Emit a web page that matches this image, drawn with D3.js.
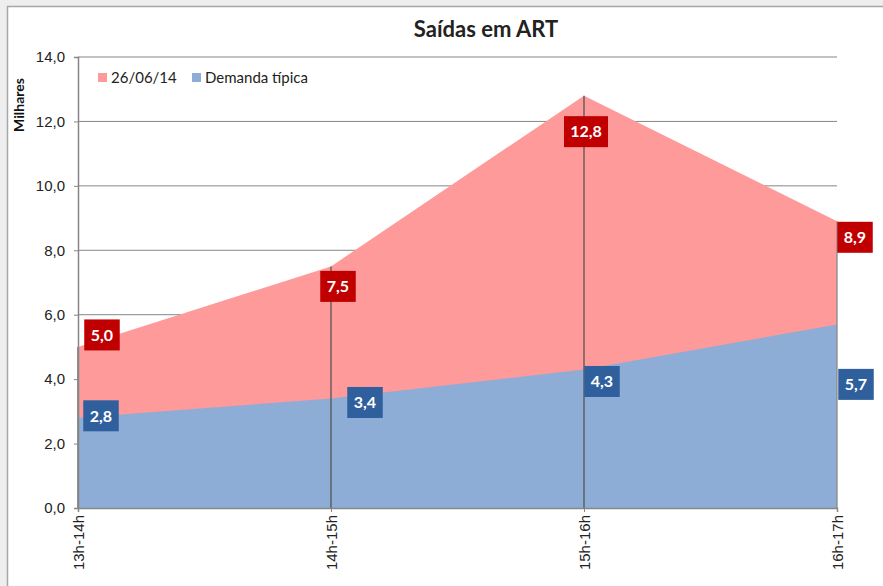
<!DOCTYPE html>
<html>
<head>
<meta charset="utf-8">
<script src="https://cdn.jsdelivr.net/npm/d3@7"></script>
<style>
  body { margin: 0; background: #eeeeee; }
  svg { display: block; font-family: Lato, "Open Sans", sans-serif; }
</style>
</head>
<body>
<div id="chart"></div>
<script>
// Data
const periods = ['13h-14h', '14h-15h', '15h-16h', '16h-17h'];
const dia260614 = [5.0, 7.5, 12.8, 8.9];
const demandaTipica = [2.8, 3.4, 4.3, 5.7];
const yTicks = [0, 2, 4, 6, 8, 10, 12, 14];
const seriesNames = ['26/06/14', 'Demanda típica'];

// Dimensions
const svgWidth = 883, svgHeight = 586;
const margin = { top: 57, right: 46, bottom: 78, left: 78 };
const chartWidth = svgWidth - margin.left - margin.right;
const chartHeight = svgHeight - margin.top - margin.bottom;

const fmt = v => d3.format('.1f')(v).replace('.', ',');

let svg = d3.select('#chart')
    .append('svg')
    .attr('width', svgWidth)
    .attr('height', svgHeight);

// Chart area frame
svg.append('rect')
    .attr('x', 7.5).attr('y', 6.5)
    .attr('width', svgWidth).attr('height', svgHeight)
    .style('fill', 'white')
    .style('stroke', '#a6a6a6')
    .style('stroke-width', 1.5);

let chart = svg.append('g')
    .attr('transform', `translate(${margin.left}, ${margin.top})`);

// Scales
let xScale = d3.scalePoint()
    .domain(periods)
    .range([0, chartWidth]);

let yScale = d3.scaleLinear()
    .domain([0, 14])
    .range([chartHeight, 0]);

// Gridlines
chart.selectAll('.grid')
    .data(yTicks.filter(d => d > 0))
    .enter()
    .append('line')
    .attr('x1', 0)
    .attr('x2', chartWidth)
    .attr('y1', d => yScale(d))
    .attr('y2', d => yScale(d))
    .style('stroke', '#868686')
    .style('stroke-width', 1);

// Areas
const area = values => d3.area()
    .x((d, i) => xScale(periods[i]))
    .y0(yScale(0))
    .y1(d => yScale(d))(values);

chart.append('path')
    .attr('d', area(dia260614))
    .style('fill', '#fe9a9a');

chart.append('path')
    .attr('d', area(demandaTipica))
    .style('fill', '#8eadd6');

// Drop lines
chart.selectAll('.drop')
    .data(periods)
    .enter()
    .append('line')
    .attr('x1', d => xScale(d))
    .attr('x2', d => xScale(d))
    .attr('y1', (d, i) => yScale(dia260614[i]))
    .attr('y2', yScale(0))
    .style('stroke', (d, i) => i === periods.length - 1 ? '#8a8a8a' : '#555')
    .style('stroke-width', 1.3);

// Axes
let yAxis = d3.axisLeft(yScale)
    .tickValues(yTicks)
    .tickSize(4)
    .tickFormat(fmt);

let gy = chart.append('g').call(yAxis);
gy.select('.domain').style('stroke', '#868686').style('stroke-width', 1.5);
gy.selectAll('.tick line').style('stroke', '#868686');
gy.selectAll('.tick text')
    .attr('x', -13)
    .style('font-size', '15px')
    .style('fill', '#222');

let xAxis = d3.axisBottom(xScale)
    .tickSize(4);

let gx = chart.append('g')
    .attr('transform', `translate(0, ${chartHeight})`)
    .call(xAxis);
gx.select('.domain').style('stroke', '#868686').style('stroke-width', 1.5);
gx.selectAll('.tick line').style('stroke', '#868686');
gx.selectAll('.tick text')
    .attr('transform', 'rotate(-90)')
    .attr('x', -7)
    .attr('y', 0)
    .attr('dy', '0.35em')
    .style('text-anchor', 'end')
    .style('font-size', '15px')
    .style('fill', '#222');

// Data labels (offsets from each point, as placed in the original)
const redOffsets = [[24, -12], [7, 20], [2, 36], [18, 16]];
const blueOffsets = [[23, -2], [34, 4], [18, 12], [19, 60]];

function addLabels(values, offsets, color) {
    const g = chart.selectAll(null)
        .data(values)
        .enter()
        .append('g')
        .attr('transform', (d, i) =>
            `translate(${xScale(periods[i]) + offsets[i][0]}, ${yScale(d) + offsets[i][1]})`);
    g.append('rect')
        .attr('x', d => -(fmt(d).length * 8.5 + 10) / 2)
        .attr('y', -15.5)
        .attr('width', d => fmt(d).length * 8.5 + 10)
        .attr('height', 31)
        .style('fill', color);
    g.append('text')
        .attr('text-anchor', 'middle')
        .attr('dy', '0.36em')
        .style('fill', 'white')
        .style('font-weight', 'bold')
        .style('font-size', '16px')
        .text(d => fmt(d));
}
addLabels(dia260614, redOffsets, '#c00000');
addLabels(demandaTipica, blueOffsets, '#2f5f9c');

// Legend
const legend = chart.append('g')
    .attr('transform', 'translate(20, 21)');
const legendX = [0, 94];
const legendColors = ['#fe9a9a', '#8eadd6'];
seriesNames.forEach((name, i) => {
    legend.append('rect')
        .attr('x', legendX[i])
        .attr('y', -5)
        .attr('width', 9)
        .attr('height', 9)
        .style('fill', legendColors[i]);
    legend.append('text')
        .attr('x', legendX[i] + 13)
        .attr('y', 0)
        .attr('dy', '0.35em')
        .style('font-size', '15px')
        .style('fill', '#222')
        .text(name);
});

// Y axis title
svg.append('text')
    .attr('transform', 'translate(24, 105) rotate(-90)')
    .attr('text-anchor', 'middle')
    .style('font-size', '14px')
    .style('font-weight', 'bold')
    .style('fill', '#111')
    .text('Milhares');

// Title
svg.append('text')
    .attr('x', 486)
    .attr('y', 37)
    .attr('text-anchor', 'middle')
    .style('font-size', '22px')
    .style('font-weight', 'bold')
    .style('fill', '#222')
    .text('Saídas em ART');
</script>
</body>
</html>
